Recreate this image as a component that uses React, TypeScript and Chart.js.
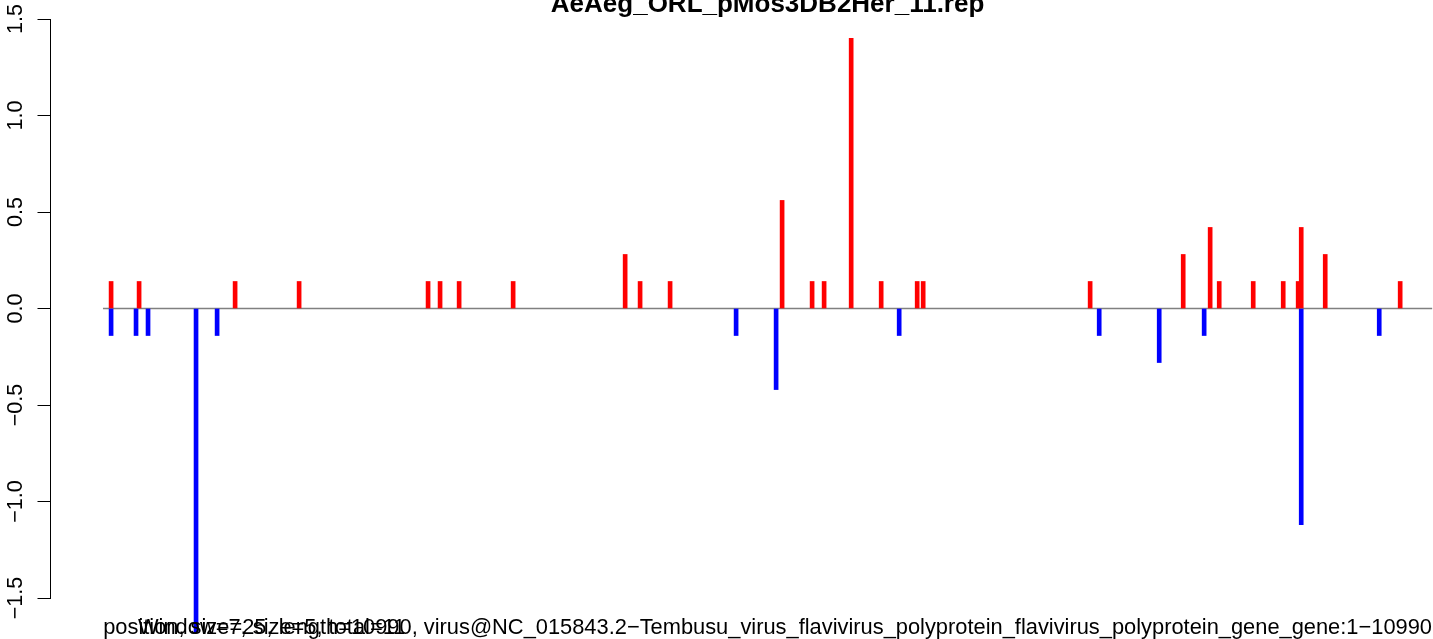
import React, { useEffect, useRef } from "react";
import { Chart, registerables } from "chart.js";

Chart.register(...registerables);

const titleText = "AeAeg_ORL_pMos3DB2Her_11.rep";
const xLabelText =
  "position, size=25, length=10990, virus@NC_015843.2\u2212Tembusu_virus_flavivirus_polyprotein_flavivirus_polyprotein_gene_gene:1\u221210990";
const xSubText = "Window=7, size=5, total=11";

const yTicks = [-1.5, -1.0, -0.5, 0.0, 0.5, 1.0, 1.5];
const yTickLabels = ["\u22121.5", "\u22121.0", "\u22120.5", "0.0", "0.5", "1.0", "1.5"];

const redPos = [15, 253, 1069, 1613, 2709, 2811, 2973, 3432, 4384, 4511, 4766, 5718, 5973, 6075, 6305, 6560, 6866, 6917, 8336, 9127, 9356, 9433, 9722, 9977, 10104, 10130, 10334, 10971];
const redVal = [0.14, 0.14, 0.14, 0.14, 0.14, 0.14, 0.14, 0.14, 0.28, 0.14, 0.14, 0.56, 0.14, 0.14, 1.4, 0.14, 0.14, 0.14, 0.14, 0.28, 0.42, 0.14, 0.14, 0.14, 0.14, 0.42, 0.28, 0.14];

const bluePos = [15, 227, 329, 737, 916, 5327, 5667, 6713, 8413, 8923, 9305, 10130, 10793];
const blueVal = [-0.14, -0.14, -0.14, -1.68, -0.14, -0.14, -0.42, -0.14, -0.14, -0.28, -0.14, -1.12, -0.14];

const zeroLineX = [-54, 11243];

const FONT = '"Liberation Sans", Arial, Helvetica, sans-serif';

export default function App() {
  const ref = useRef<HTMLCanvasElement | null>(null);

  useEffect(() => {
    if (!ref.current) return;
    const textPlugin = {
      id: "rtext",
      afterDraw(chart: any) {
        const ctx = chart.ctx;
        const ys = chart.scales.y;
        ctx.save();
        ctx.fillStyle = "#000";
        // rotated y tick labels
        ctx.font = `21.6px ${FONT}`;
        ctx.textAlign = "center";
        ctx.textBaseline = "alphabetic";
        yTicks.forEach((v, i) => {
          const py = ys.getPixelForValue(v);
          ctx.save();
          ctx.translate(ys.right - 28.5, py);
          ctx.rotate(-Math.PI / 2);
          ctx.fillText(yTickLabels[i], 0, 0);
          ctx.restore();
        });
        // title
        const xs = chart.scales.x;
        const left = xs.getPixelForValue(zeroLineX[0]);
        const right = xs.getPixelForValue(zeroLineX[1]);
        const cx = (left + right) / 2;
        ctx.font = `bold 26px ${FONT}`;
        ctx.textAlign = "center";
        ctx.fillText(titleText, cx, 12);
        // x label lines
        ctx.font = `21.85px ${FONT}`;
        ctx.textAlign = "center";
        ctx.fillText(xLabelText, cx, 634);
        ctx.textAlign = "left";
        ctx.fillText(xSubText, left + 35, 634);
        ctx.restore();
      },
    };

    const chart = new Chart(ref.current, {
      type: "bar",
      data: {
        datasets: [
          {
            type: "line",
            data: zeroLineX.map((x) => ({ x, y: 0 })),
            borderColor: "#808080",
            borderWidth: 1.3,
            pointRadius: 0,
            order: 3,
            clip: false,
          } as any,
          {
            data: redPos.map((x, i) => ({ x, y: redVal[i] })),
            backgroundColor: "#ff0000",
            barThickness: 4,
            grouped: false,
            order: 2,
            clip: false,
          } as any,
          {
            data: bluePos.map((x, i) => ({ x, y: blueVal[i] })),
            backgroundColor: "#0000ff",
            barThickness: 4,
            grouped: false,
            order: 1,
            clip: false,
          } as any,
        ],
      },
      options: {
        responsive: false,
        animation: false,
        events: [],
        layout: { padding: { top: 19, bottom: 41, left: 0, right: 0 } },
        plugins: { legend: { display: false }, tooltip: { enabled: false }, title: { display: false } },
        scales: {
          x: {
            type: "linear",
            min: -500,
            max: 11250,
            offset: false,
            display: false,
          },
          y: {
            type: "linear",
            min: -1.5,
            max: 1.5,
            afterBuildTicks(scale: any) {
              scale.ticks = yTicks.map((v) => ({ value: v }));
            },
            afterFit(scale: any) {
              scale.width = 50.5;
            },
            ticks: { display: false },
            grid: {
              drawOnChartArea: false,
              drawTicks: true,
              tickLength: 13,
              color: "#000",
              lineWidth: 1,
            },
            border: { display: true, color: "#000", width: 1 },
          },
        },
      } as any,
      plugins: [textPlugin],
    });
    return () => chart.destroy();
  }, []);

  return (
    <div style={{ position: "fixed", left: 0, top: 0, width: 1433, height: 639, background: "#fff" }}>
      <canvas ref={ref} width={1433} height={639} style={{ display: "block" }} />
    </div>
  );
}
